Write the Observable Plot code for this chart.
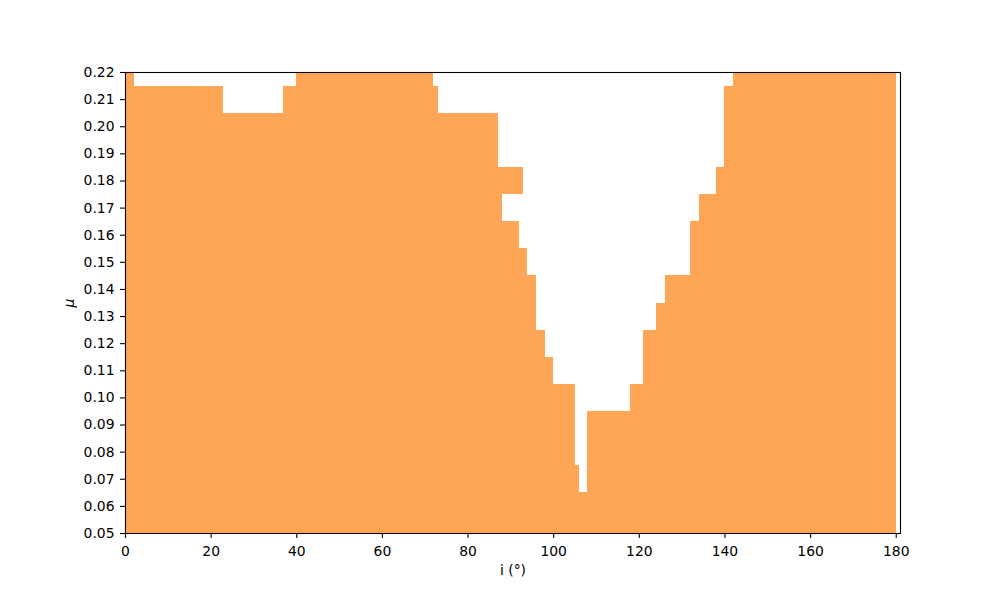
<!DOCTYPE html>
<html>
<head>
<meta charset="utf-8">
<script src="https://cdn.jsdelivr.net/npm/d3@7"></script>
<script src="https://cdn.jsdelivr.net/npm/@observablehq/plot@0.6"></script>
<style>
  html, body { margin: 0; padding: 0; background: #fff; }
  #chart { width: 1000px; height: 600px; }
</style>
</head>
<body>
<div id="chart"></div>
<script>
// Orange (true) segments per μ row: row centre, start and end of i (°)
const segMu    = [0.22, 0.22, 0.22, 0.21, 0.21, 0.21, 0.20, 0.20, 0.19, 0.19, 0.18, 0.18, 0.17, 0.17, 0.16, 0.16, 0.15, 0.15, 0.14, 0.14, 0.13, 0.13, 0.12, 0.12, 0.11, 0.11, 0.10, 0.10, 0.09, 0.09, 0.08, 0.08, 0.07, 0.07, 0.06, 0.05];
const segStart = [0,    40,   142,  0,    37,   140,  0,    140,  0,    140,  0,    138,  0,    134,  0,    132,  0,    132,  0,    126,  0,    124,  0,    121,  0,    121,  0,    118,  0,    108,  0,    108,  0,    108,  0,    0];
const segEnd   = [2,    72,   180,  23,   73,   180,  87,   180,  87,   180,  93,   180,  88,   180,  92,   180,  94,   180,  96,   180,  96,   180,  98,   180,  100,  180,  105,  180,  105,  180,  105,  180,  106,  180,  180,  180];
const rowStep = 0.01;

const xTicks = [0, 20, 40, 60, 80, 100, 120, 140, 160, 180];
const yTicks = [0.05, 0.06, 0.07, 0.08, 0.09, 0.10, 0.11, 0.12, 0.13, 0.14, 0.15, 0.16, 0.17, 0.18, 0.19, 0.20, 0.21, 0.22];

const cells = segMu.map((m, k) => ({
  x1: segStart[k], x2: segEnd[k],
  y1: Math.max(0.05, m - rowStep / 2), y2: Math.min(0.22, m + rowStep / 2)
}));

const chart = Plot.plot({
  width: 1000,
  height: 600,
  marginLeft: 125,
  marginRight: 100,
  marginTop: 72,
  marginBottom: 67,
  style: { fontFamily: "DejaVu Sans", fontSize: "13.9px", background: "#fff", color: "#000" },
  x: { domain: [0, 181] },
  y: { domain: [0.05, 0.22] },
  marks: [
    Plot.rect(cells, { x1: "x1", x2: "x2", y1: "y1", y2: "y2", fill: "#ffa556", shapeRendering: "crispEdges" }),
    Plot.frame({ stroke: "#000", strokeWidth: 1.1 }),
    Plot.axisX({ ticks: xTicks, tickSize: 5, tickPadding: 7.5, tickFormat: d => String(d), label: "i (°)", labelAnchor: "center", labelArrow: "none", labelOffset: 41, strokeWidth: 1.1 }),
    Plot.axisY({ ticks: yTicks, tickSize: 5, tickPadding: 6, tickFormat: d3.format(".2f"), label: "μ", labelAnchor: "center", labelArrow: "none", labelOffset: 61, strokeWidth: 1.1 })
  ]
});
document.getElementById("chart").appendChild(chart);
const yl = chart.querySelector('[aria-label="y-axis label"]');
if (yl) yl.setAttribute("font-style", "italic");
</script>
</body>
</html>
